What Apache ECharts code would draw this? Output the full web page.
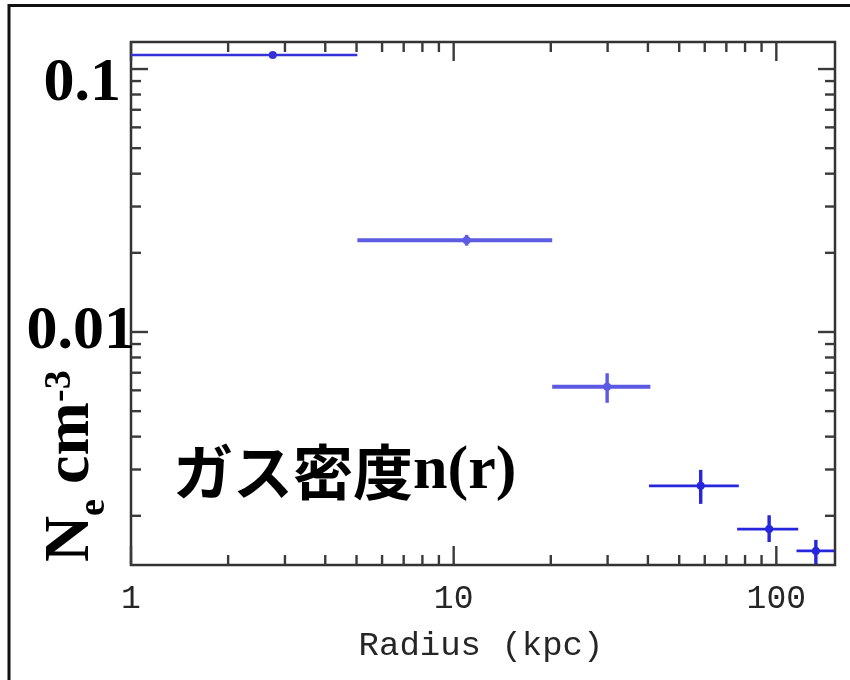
<!DOCTYPE html>
<html><head><meta charset="utf-8">
<script src="https://cdn.jsdelivr.net/npm/echarts@6/dist/echarts.min.js"></script>
<style>html,body{margin:0;padding:0;background:#fff}#c{width:850px;height:680px}</style>
</head><body><div id="c"></div>
<script>
// ---- data ----
const radius      = [2.75, 10.97, 29.9, 58.3, 95.0, 132.6];
const radiusLow   = [1.0, 5.03, 20.2, 40.3, 75.6, 115.5];
const radiusHigh  = [5.03, 20.2, 40.7, 76.5, 116.9, 152];
const density     = [0.1130, 0.02233, 0.00619, 0.00260, 0.00178, 0.00147];
const densityLow  = [0.1118, 0.0213, 0.00538, 0.00222, 0.00159, 0.0013];
const densityHigh = [0.1142, 0.0234, 0.00697, 0.00299, 0.00201, 0.00162];

const xMajorTicks = [1, 10, 100];
const xMinorTicks = [2, 3, 4, 5, 6, 7, 8, 9, 20, 30, 40, 50, 60, 70, 80, 90];
const yMajorTicks = [0.01, 0.1];
const yMinorTicks = [0.002, 0.003, 0.004, 0.005, 0.006, 0.007, 0.008, 0.009,
                     0.02, 0.03, 0.04, 0.05, 0.06, 0.07, 0.08, 0.09];
const xTickLabelValues = [1, 10, 100];
const xTickLabels = ['1', '10', '100'];
const yTickLabelValues = [0.1, 0.01];
const yTickLabels = ['0.1', '0.01'];
const xTitle = 'Radius (kpc)';
const plotLabelJa = 'ガス密度';
const plotLabelFn = 'n(r)';

const xMin = 1, xMax = 152, yMin = 0.0013, yMax = 0.1267;

// ---- styles ----
const barColors = ['#3232d8', '#5c5ce2', '#5a5ae2', '#2626dc', '#2626dc', '#2626dc'];
const barWidths = [2.6, 4, 4, 2.8, 2.8, 2.8];

const chart = echarts.init(document.getElementById('c'), null, {renderer: 'canvas'});

const hiddenAxis = {
  axisLine: {show: false}, axisTick: {show: false},
  axisLabel: {show: false}, splitLine: {show: false}
};

const option = {
  animation: false,
  backgroundColor: '#fff',
  grid: {left: 131, right: 15, top: 42, bottom: 115, show: true,
         borderColor: '#333', borderWidth: 2.5, backgroundColor: 'transparent'},
  xAxis: Object.assign({type: 'log', logBase: 10, min: xMin, max: xMax}, hiddenAxis),
  yAxis: Object.assign({type: 'log', logBase: 10, min: yMin, max: yMax}, hiddenAxis),
  series: [
    {
      type: 'custom', silent: true, clip: false,
      data: xMajorTicks.map(v => [v, 0.01, 1]).concat(xMinorTicks.map(v => [v, 0.01, 0])),
      encode: {x: 0, y: 1},
      renderItem(params, api) {
        const x = api.coord([api.value(0), api.value(1)])[0];
        const cs = params.coordSys;
        const len = api.value(2) ? 19 : 10;
        const st = {stroke: '#3a3a3a', lineWidth: 2.4};
        return {type: 'group', children: [
          {type: 'line', shape: {x1: x, y1: cs.y + cs.height, x2: x, y2: cs.y + cs.height - len}, style: st},
          {type: 'line', shape: {x1: x, y1: cs.y, x2: x, y2: cs.y + len}, style: st}
        ]};
      }
    },
    {
      type: 'custom', silent: true, clip: false,
      data: yMajorTicks.map(v => [2, v, 1]).concat(yMinorTicks.map(v => [2, v, 0])),
      encode: {x: 0, y: 1},
      renderItem(params, api) {
        const y = api.coord([api.value(0), api.value(1)])[1];
        const cs = params.coordSys;
        const len = api.value(2) ? 17 : 10;
        const st = {stroke: '#3a3a3a', lineWidth: 2.4};
        return {type: 'group', children: [
          {type: 'line', shape: {x1: cs.x, y1: y, x2: cs.x + len, y2: y}, style: st},
          {type: 'line', shape: {x1: cs.x + cs.width, y1: y, x2: cs.x + cs.width - len, y2: y}, style: st}
        ]};
      }
    },
    {
      type: 'custom', clip: true,
      data: radius.map((r, i) => [r, density[i], radiusLow[i], radiusHigh[i], densityLow[i], densityHigh[i]]),
      encode: {x: 0, y: 1},
      renderItem(params, api) {
        const i = params.dataIndex;
        const col = barColors[i];
        const cs = params.coordSys;
        const c = api.coord([api.value(0), api.value(1)]);
        const l = api.coord([api.value(2), api.value(1)]);
        const r = api.coord([api.value(3), api.value(1)]);
        const b = api.coord([api.value(0), api.value(4)]);
        const t = api.coord([api.value(0), api.value(5)]);
        const x1 = Math.max(l[0], cs.x), x2 = Math.min(r[0], cs.x + cs.width - 1);
        const yb = Math.min(b[1], cs.y + cs.height - 1), yt = Math.max(t[1], cs.y);
        return {type: 'group', children: [
          {type: 'line', shape: {x1: x1, y1: c[1], x2: x2, y2: c[1]}, style: {stroke: col, lineWidth: barWidths[i]}},
          {type: 'line', shape: {x1: c[0], y1: yt, x2: c[0], y2: yb}, style: {stroke: col, lineWidth: 3.4}},
          {type: 'circle', shape: {cx: c[0], cy: c[1], r: 4}, style: {fill: col}}
        ]};
      }
    }
  ]
};
chart.setOption(option);

// ---- text placed from the library's own scale ----
const px = (x, y) => chart.convertToPixel({gridIndex: 0}, [x, y]);
const graphics = [];

// outer frame (top and left edges)
graphics.push({type: 'polyline', silent: true,
  shape: {points: [[9, 680], [9, 5.5], [850, 5.5]]},
  style: {stroke: '#111', lineWidth: 3, fill: null}});

// x tick labels
xTickLabelValues.forEach((v, i) => {
  const p = px(v, yMin);
  graphics.push({type: 'text', x: p[0], y: p[1] + 34, silent: true,
    style: {text: xTickLabels[i], fontFamily: 'Liberation Mono', fontSize: 33,
            fill: '#262626', align: 'center', verticalAlign: 'middle'}});
});
// x title
{
  const a = px(xMin, yMin);
  graphics.push({type: 'text', x: 481, y: a[1] + 81, silent: true,
    style: {text: xTitle, fontFamily: 'Liberation Mono', fontSize: 34,
            fill: '#262626', align: 'center', verticalAlign: 'middle'}});
}
// y tick labels (big bold serif)
const yLabelShift = [15, 0];
const yLabelRight = [121, 135];
yTickLabelValues.forEach((v, i) => {
  const p = px(xMin, v);
  graphics.push({type: 'text', x: yLabelRight[i], y: p[1] + yLabelShift[i], silent: true, z: 10,
    style: {text: yTickLabels[i], fontFamily: 'Liberation Serif', fontWeight: 'bold', fontSize: 62,
            fill: '#000', align: 'right', verticalAlign: 'middle'}});
});
// y title: N_e cm^-3 rotated
{
  const F = 'Liberation Serif';
  graphics.push({type: 'group', x: 93, y: 562, rotation: Math.PI / 2, silent: true, children: [
    {type: 'text', x: 0, y: -22, style: {text: 'N', fontFamily: F, fontWeight: 'bold', fontSize: 64, fill: '#000', align: 'left', verticalAlign: 'middle'}},
    {type: 'text', x: 46, y: 1, style: {text: 'e', fontFamily: F, fontWeight: 'bold', fontSize: 38, fill: '#000', align: 'left', verticalAlign: 'middle'}},
    {type: 'text', x: 78, y: -22, style: {text: 'cm', fontFamily: F, fontWeight: 'bold', fontSize: 64, fill: '#000', align: 'left', verticalAlign: 'middle'}},
    {type: 'text', x: 160, y: -33, style: {text: '-3', fontFamily: F, fontWeight: 'bold', fontSize: 38, fill: '#000', align: 'left', verticalAlign: 'middle'}}
  ]});
}
// in-plot label
graphics.push({type: 'text', x: 173, y: 472, silent: true,
  style: {text: '{a|' + plotLabelJa + '}{b|' + plotLabelFn + '}',
          align: 'left', verticalAlign: 'middle',
          rich: {
            a: {fontFamily: 'Noto Sans CJK JP', fontWeight: 'bold', fontSize: 60, fill: '#000'},
            b: {fontFamily: 'Liberation Serif', fontWeight: 'bold', fontSize: 62, fill: '#000'}
          }}});

chart.setOption({graphic: graphics});
</script>
</body></html>
